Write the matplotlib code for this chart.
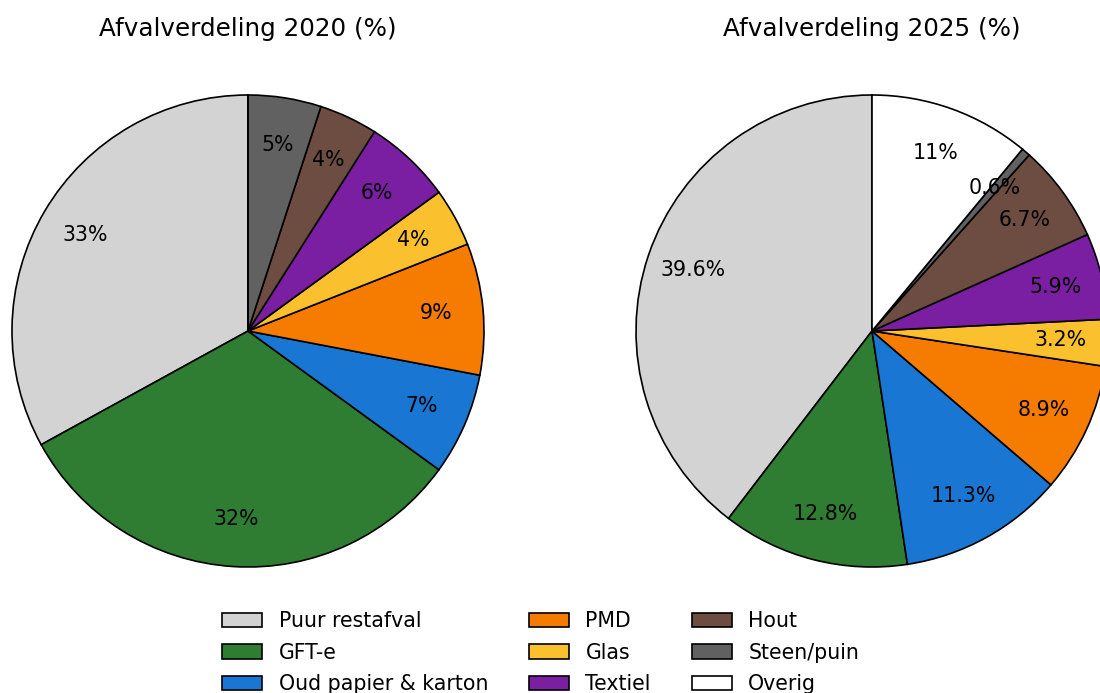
import matplotlib
matplotlib.use("Agg")
import matplotlib.pyplot as plt
from matplotlib.patches import Patch

categories = ["Puur restafval", "GFT-e", "Oud papier & karton", "PMD", "Glas",
              "Textiel", "Hout", "Steen/puin", "Overig"]
values_2020 = [33, 32, 7, 9, 4, 6, 4, 5, 0]
values_2025 = [39.6, 12.8, 11.3, 8.9, 3.2, 5.9, 6.7, 0.6, 11]
colors = ["#d3d3d3", "#2e7d32", "#1976d2", "#f57c00", "#fbc02d",
          "#7b1fa2", "#6d4c41", "#616161", "#ffffff"]
titles = ["Afvalverdeling 2020 (%)", "Afvalverdeling 2025 (%)"]

W, H, DPI = 1100, 693, 120
fig = plt.figure(figsize=(W / DPI, H / DPI), dpi=DPI)
FS = 12.3

def fmt(p):
    p = round(p, 1)
    if p == 0:
        return ""
    return f"{p:g}%"

size = 590
centers_x = [248, 872]
cy = 331
for cx, vals, title in zip(centers_x, [values_2020, values_2025], titles):
    ax = fig.add_axes([(cx - size / 2) / W, (H - cy - size / 2) / H, size / W, size / H])
    ax.pie(vals, colors=colors, startangle=90, counterclock=True,
           autopct=fmt, pctdistance=0.8,
           wedgeprops=dict(edgecolor="black", linewidth=1.0),
           textprops=dict(fontsize=FS, color="black"))
    ax.set_xlim(-1.25, 1.25)
    ax.set_ylim(-1.25, 1.25)
    fig.text(cx / W, 1 - 36 / H, title, ha="center", va="baseline", fontsize=14.75)

handles = [Patch(facecolor=c, edgecolor="black", linewidth=1.0) for c in colors]
fig.legend(handles, categories, ncol=3, frameon=False, loc="upper left",
           bbox_to_anchor=(214 / W, 1 - 603 / H), borderaxespad=0, fontsize=FS,
           labelspacing=0.56, handlelength=1.95)

fig.savefig("out.png", dpi=DPI)
